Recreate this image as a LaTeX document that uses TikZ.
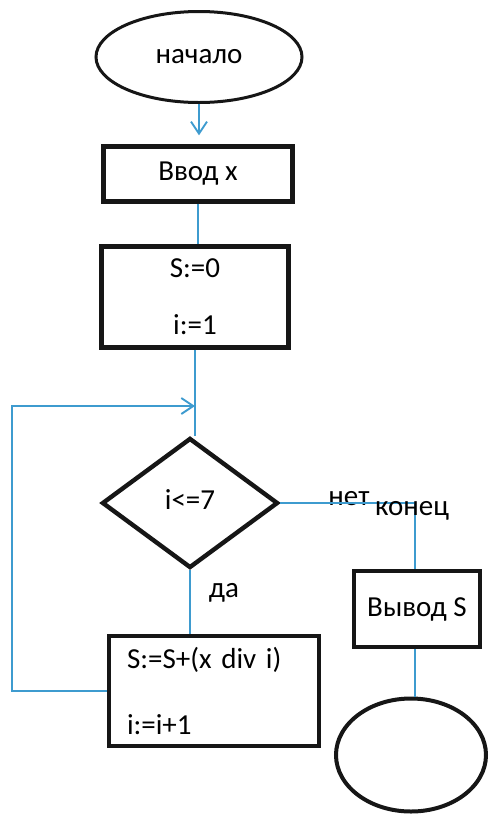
\documentclass[tikz,border=0pt]{standalone}
\usepackage{fontspec}
\setmainfont{Carlito}
\usetikzlibrary{arrows.meta,shapes.geometric}
\definecolor{Flow}{HTML}{3E9BCF}
\definecolor{Ink}{HTML}{161616}

\begin{document}
\begin{tikzpicture}[x=1pt,y=-1pt,
  font=\fontsize{29}{33}\selectfont,
  flow/.style={Flow,line width=1.9pt},
  barb/.style={-{Straight Barb[length=12pt,width=16pt,line width=1.9pt]}},
  blk/.style={draw=Ink,line width=4.4pt,rectangle,inner sep=0pt},
  oval/.style={draw=Ink,line width=3pt,ellipse,inner sep=0pt}]
\useasboundingbox (0,0) rectangle (488,815);
% shapes
\node[oval,minimum width=206pt,minimum height=91pt] (start) at (199,57) {начало};
\node[blk,minimum width=189pt,minimum height=55pt] (input) at (198,174) {Ввод x};
\node[blk,align=center,minimum width=187pt,minimum height=101pt] (init) at (195,297) {S:=0\\[24pt]i:=1};
\node[draw=Ink,line width=4.4pt,diamond,inner sep=0pt,minimum width=176pt,minimum height=130pt] (cond) at (190,503) {\raisebox{6pt}{i<=7}};
\node[blk,align=left,text width=174pt,minimum width=210pt,minimum height=110pt] (body) at (214,691) {S:=S+(x div i)\\[33pt]i:=i+1};
\node[blk,minimum width=126pt,minimum height=76pt] (out) at (417,609) {Вывод S};
\node[oval,line width=4pt,minimum width=150pt,minimum height=113pt] (stop) at (411,755) {};
% labels
\node[anchor=base] (no) at (349,505) {нет};
\node[anchor=base] (yes) at (224,597) {да};
% connectors
\draw[flow,barb,shorten >=9pt] (start.south) -- (start.south |- input.north);
\draw[flow] (input.south) -- (input.south |- init.north);
\draw[flow] (init.south) -- (init.south |- cond.north);
\coordinate (join) at (init.south |- 0,406);
\draw[flow,barb] (body.west) -- ++(-95,0) |- (join);
\draw[flow] (cond.east) -- ++(135,0) coordinate (turn) -- (turn |- out.north);
\draw[flow] (cond.south) -- (cond.south |- body.north);
\draw[flow] (turn |- out.south) -- (turn |- stop.north);
\node[anchor=base] (endlbl) at (412,515) {конец};
\end{tikzpicture}
\end{document}
